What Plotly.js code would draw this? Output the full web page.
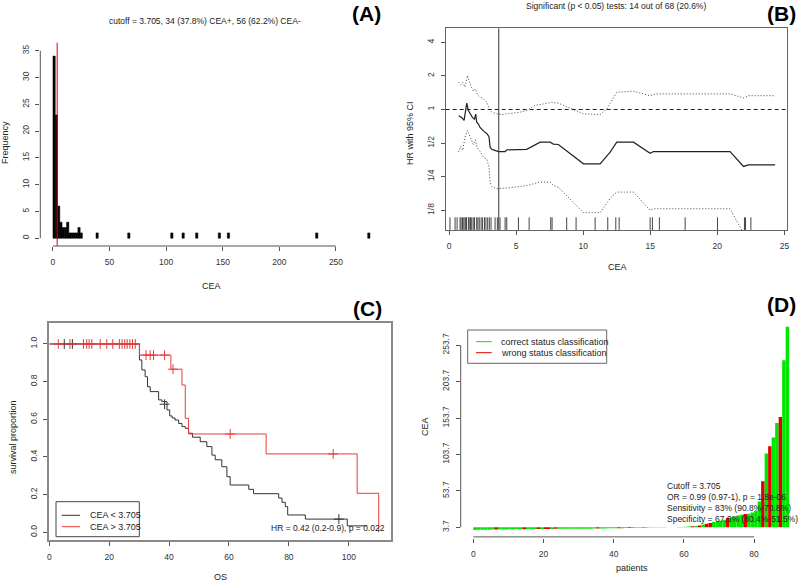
<!DOCTYPE html>
<html>
<head>
<meta charset="utf-8">
<script src="https://cdn.plot.ly/plotly-3.0.1.min.js"></script>
<style>
  html, body { margin: 0; padding: 0; background: #fff; }
  #chart { width: 800px; height: 584px; }
</style>
</head>
<body>
<div id="chart"></div>
<script>
// ---- data ----
var cutoff = 3.705;

// (A) histogram of CEA (bin width 2)
var histBinWidth = 2;
var histLeft  = [0, 2, 4, 6, 8, 10, 12, 14, 16, 18, 20, 22, 24, 38, 66, 104, 114, 126, 146, 154, 232, 278];
var histCount = [34, 23, 6, 3, 2, 2, 3, 1, 1, 1, 1, 2, 1, 1, 1, 1, 1, 1, 1, 1, 1, 1];

// (B) hazard ratio over cutoffs
var hrCea = [0.72, 0.94, 1.12, 1.32, 1.44, 1.57, 1.74, 1.89, 1.99, 2.06, 2.19, 2.31, 2.49, 2.64, 2.81, 2.98, 3.06, 3.18, 3.43, 3.68, 4.18, 4.30, 5.79, 6.79, 7.53, 7.78, 8.15, 10.02, 11.26, 12.01, 12.50, 13.75, 14.99, 15.24, 20.95, 21.95, 22.32, 24.31];
var hrEst = [0.88, 0.85, 0.80, 1.14, 0.98, 0.91, 0.85, 0.82, 0.91, 0.77, 0.74, 0.69, 0.65, 0.63, 0.61, 0.57, 0.46, 0.44, 0.43, 0.42, 0.42, 0.435, 0.44, 0.51, 0.51, 0.49, 0.486, 0.326, 0.326, 0.415, 0.51, 0.51, 0.406, 0.42, 0.42, 0.309, 0.319, 0.319];
var upCea = [0.70, 0.87, 1.02, 1.19, 1.37, 1.51, 1.64, 1.81, 1.96, 2.11, 2.31, 2.56, 2.81, 2.98, 3.18, 3.56, 3.93, 4.30, 5.29, 5.79, 6.41, 7.03, 7.66, 8.15, 8.78, 9.40, 10.02, 11.26, 11.76, 12.50, 13.75, 14.99, 15.49, 20.95, 21.95, 22.32, 24.31];
var upVal = [1.76, 1.67, 1.75, 1.59, 2.02, 1.79, 1.61, 1.46, 1.53, 1.36, 1.29, 1.25, 1.16, 1.03, 0.947, 0.915, 0.90, 0.915, 0.947, 0.98, 1.09, 1.12, 1.16, 1.14, 1.06, 0.99, 0.915, 0.90, 1.01, 1.43, 1.46, 1.33, 1.38, 1.38, 1.27, 1.33, 1.33];
var loCea = [0.70, 0.87, 1.02, 1.19, 1.37, 1.51, 1.64, 1.81, 1.96, 2.11, 2.31, 2.56, 2.81, 2.98, 3.06, 3.18, 3.56, 3.93, 4.30, 5.79, 6.79, 7.53, 7.78, 8.15, 10.02, 11.26, 12.01, 12.50, 13.75, 14.99, 15.24, 20.95, 21.95, 22.32, 24.31];
var loVal = [0.415, 0.466, 0.43, 0.565, 0.648, 0.585, 0.527, 0.486, 0.535, 0.453, 0.423, 0.374, 0.359, 0.304, 0.224, 0.204, 0.195, 0.195, 0.198, 0.208, 0.224, 0.224, 0.208, 0.201, 0.119, 0.119, 0.16, 0.182, 0.182, 0.125, 0.129, 0.129, 0.078, 0.08, 0.08];
var rugCea = [0.07, 0.45, 0.6, 0.82, 0.9, 1.0, 1.1, 1.19, 1.25, 1.3, 1.44, 1.5, 1.6, 1.69, 1.8, 1.9, 2.06, 2.15, 2.25, 2.39, 2.5, 2.64, 2.75, 2.88, 3.0, 3.13, 3.43, 3.6, 3.80, 4.18, 4.30, 5.17, 5.97, 7.58, 7.68, 8.77, 9.47, 10.89, 11.83, 12.43, 12.68, 14.99, 15.16, 15.68, 17.6, 20.01, 22.02, 22.1, 22.5];
var rugLevel = 0.095;

// (C) Kaplan-Meier, OS
var lowT = [0, 30.1, 30.9, 32.0, 32.8, 33.7, 36.5, 37.6, 39.3, 40.2, 41.0, 42.0, 43.2, 44.3, 45.4, 46.5, 47.8, 50.4, 52.6, 54.3, 55.4, 57.6, 59.3, 60.4, 66.6, 68.2, 76.6, 77.7, 78.8, 79.6, 85.5, 99.5, 106.0];
var lowS = [1.0, 0.915, 0.862, 0.826, 0.773, 0.747, 0.703, 0.694, 0.650, 0.618, 0.607, 0.596, 0.578, 0.561, 0.552, 0.526, 0.505, 0.481, 0.455, 0.410, 0.385, 0.348, 0.295, 0.251, 0.228, 0.205, 0.182, 0.159, 0.136, 0.092, 0.070, 0.034, 0.034];
var lowCensT = [5.0, 7.7, 38.5, 96.7];
var lowCensS = [1, 1, 0.68, 0.07];
var highT = [0, 30.1, 40.6, 44.3, 45.4, 46.5, 72.4, 102.8, 110.0];
var highS = [1, 0.941, 0.866, 0.782, 0.605, 0.522, 0.416, 0.207, 0];
var highCensT = [3.0, 6.9, 11.4, 12.5, 13.3, 14.2, 17.0, 19.2, 21.2, 23.4, 24.3, 25.2, 26.0, 26.9, 27.8, 28.7, 32.3, 33.7, 34.8, 38.5, 41.3, 60.4, 94.8];
var highCensS = [1, 1, 1, 1, 1, 1, 1, 1, 1, 1, 1, 1, 1, 1, 1, 1, 0.941, 0.941, 0.941, 0.941, 0.866, 0.522, 0.416];

// (D) sorted CEA per patient, misclassified ones
var ceaSorted = [0.2, 0.3, 0.4, 0.5, 0.5, 0.6, 0.7, 0.8, 0.8, 0.9,
  1.0, 1.0, 1.1, 1.1, 1.2, 1.2, 1.3, 1.3, 1.4, 1.4,
  1.4, 1.5, 1.5, 1.6, 1.6, 1.6, 1.7, 1.7, 1.8, 1.8,
  1.8, 1.9, 1.9, 1.9, 2.0, 2.1, 2.1, 2.2, 2.3, 2.4,
  2.5, 2.5, 2.6, 2.7, 2.8, 2.9, 3.0, 3.1, 3.2, 3.3,
  3.4, 3.4, 3.5, 3.6, 3.6, 3.7, 3.8, 3.9, 4.2, 4.3,
  4.5, 4.9, 5.2, 5.5, 6.1, 7.6, 8.8, 9.5, 10.9, 11.8,
  12.7, 14.2, 16.5, 17.6, 19.0, 20.0, 21.0, 22.0, 22.5, 24.0,
  26.0, 39, 67, 105, 115, 127, 147, 155, 233, 279];
var wrongIdx = [6, 14, 18, 20, 21, 23, 35, 41, 44, 48, 62, 64, 66, 67, 72, 77, 82, 84, 87];

// ---- helpers: page pixels -> paper coords ----
var W = 800, H = 584;
function px(x) { return x / W; }
function py(y) { return 1 - y / H; }

var font = 'Liberation Sans, Arial, Helvetica, sans-serif';
var txt = '#222';
var red = '#e63c3c';
var dotted = '1px,2px';

function ax(extra) {
  return Object.assign({
    showgrid: false, zeroline: false, showline: false,
    ticks: 'outside', ticklen: 4, tickwidth: 1, tickcolor: '#555',
    tickfont: {size: 8.5, color: '#333'}, fixedrange: true
  }, extra);
}

// ---- traces ----
var histX = histLeft.map(function (l) { return l + histBinWidth / 2; });

var barIdx = ceaSorted.map(function (v, i) { return i + 0.5; });
var barColor = ceaSorted.map(function (v, i) {
  return wrongIdx.indexOf(i) >= 0 ? '#e00000' : '#00e600';
});

var data = [
  {type: 'bar', x: histX, y: histCount, width: histBinWidth, xaxis: 'x', yaxis: 'y',
   marker: {color: '#000', line: {color: '#000', width: 0.5}}},

  {type: 'scatter', mode: 'lines', x: upCea, y: upVal, xaxis: 'x2', yaxis: 'y2',
   line: {color: '#444', width: 1, dash: dotted}},
  {type: 'scatter', mode: 'lines', x: loCea, y: loVal, xaxis: 'x2', yaxis: 'y2',
   line: {color: '#444', width: 1, dash: dotted}},
  {type: 'scatter', mode: 'lines', x: hrCea, y: hrEst, xaxis: 'x2', yaxis: 'y2',
   line: {color: '#222', width: 1.2}},
  {type: 'scatter', mode: 'markers', x: rugCea, y: rugCea.map(function () { return rugLevel; }),
   xaxis: 'x2', yaxis: 'y2',
   marker: {symbol: 'line-ns-open', size: 9, color: '#444', line: {color: '#444', width: 1}}},

  {type: 'scatter', mode: 'lines', x: lowT, y: lowS, xaxis: 'x3', yaxis: 'y3',
   line: {color: '#333', width: 1, shape: 'hv'}},
  {type: 'scatter', mode: 'markers', x: lowCensT, y: lowCensS, xaxis: 'x3', yaxis: 'y3',
   marker: {symbol: 'cross-thin-open', size: 7, color: '#333', line: {color: '#333', width: 1}}},
  {type: 'scatter', mode: 'lines', x: highT, y: highS, xaxis: 'x3', yaxis: 'y3',
   line: {color: red, width: 1, shape: 'hv'}},
  {type: 'scatter', mode: 'markers', x: highCensT, y: highCensS, xaxis: 'x3', yaxis: 'y3',
   marker: {symbol: 'cross-thin-open', size: 7, color: red, line: {color: red, width: 1}}},

  {type: 'bar', x: barIdx, y: ceaSorted.map(function (v) { return v - cutoff; }), base: cutoff,
   width: 1, xaxis: 'x4', yaxis: 'y4', marker: {color: barColor, line: {width: 0}}}
];

// ---- annotations ----
function note(text, x, y, opt) {
  return Object.assign({
    text: text, x: px(x), y: py(y), xref: 'paper', yref: 'paper', showarrow: false,
    xanchor: 'center', yanchor: 'middle', font: {family: font, size: 9, color: txt}
  }, opt || {});
}
function letter(text, x, y) {
  return note('<b>' + text + '</b>', x, y, {font: {family: font, size: 21, color: '#000'}});
}
var small = {family: font, size: 8.5, color: txt};

var annotations = [
  note('cutoff = 3.705, 34 (37.8%) CEA+, 56 (62.2%) CEA-', 205, 21, {font: small}),
  letter('(A)', 366, 14),
  note('Frequency', 5, 143, {textangle: -90}),
  note('CEA', 211, 286),

  note('Significant (p < 0.05) tests: 14 out of 68 (20.6%)', 616, 6, {font: small}),
  letter('(B)', 781, 14),
  note('HR with 95% CI', 410, 133, {textangle: -90}),
  note('CEA', 617, 267),

  letter('(C)', 367, 309),
  note('survival proportion', 13, 437, {textangle: -90}),
  note('OS', 220, 577),
  note('CEA < 3.705', 87.5, 515.3, {xanchor: 'left'}),
  note('CEA > 3.705', 87.5, 526.7, {xanchor: 'left'}),
  note('HR = 0.42 (0.2-0.9), p = 0.022', 387, 528.3, {xanchor: 'right', font: small}),

  letter('(D)', 781, 304),
  note('CEA', 425, 427, {textangle: -90}),
  note('patients', 632, 568),
  note('correct status classification', 499, 341.7, {xanchor: 'left'}),
  note('wrong status classification', 499, 352.7, {xanchor: 'left'}),
  note('Cutoff = 3.705', 665, 485.7, {xanchor: 'left', font: small}),
  note('OR = 0.99 (0.97-1), p = 1.8e-06', 665, 496.9, {xanchor: 'left', font: small}),
  note('Sensitivity = 83% (90.8%-70.8%)', 665, 508.4, {xanchor: 'left', font: small}),
  note('Specificity = 67.6% (80.4%-51.5%)', 665, 519.4, {xanchor: 'left', font: small})
];

// ---- shapes: R-style axis lines, reference lines, legend boxes ----
var axLine = {color: '#555', width: 1};
var shapes = [
  {type: 'line', xref: 'x', yref: 'y domain', x0: 0, x1: 250, y0: 0, y1: 0, line: axLine},
  {type: 'line', xref: 'x domain', yref: 'y', x0: 0, x1: 0, y0: 0, y1: 35, line: axLine},
  {type: 'line', xref: 'x', yref: 'y domain', x0: cutoff, x1: cutoff, y0: 0, y1: 1,
   line: {color: '#e00000', width: 1}},

  {type: 'line', xref: 'x2 domain', yref: 'y2', x0: 0, x1: 1, y0: 1, y1: 1,
   line: {color: '#222', width: 1, dash: '4px,3px'}},
  {type: 'line', xref: 'x2', yref: 'y2 domain', x0: cutoff, x1: cutoff, y0: 0, y1: 1,
   line: {color: '#333', width: 1}},

  {type: 'rect', xref: 'paper', yref: 'paper', x0: px(56), x1: px(139.3), y0: py(536.7), y1: py(501.7),
   line: {color: '#444', width: 1}, fillcolor: 'rgba(255,255,255,0)'},
  {type: 'line', xref: 'paper', yref: 'paper', x0: px(61.7), x1: px(80), y0: py(515.3), y1: py(515.3),
   line: {color: '#333', width: 1}},
  {type: 'line', xref: 'paper', yref: 'paper', x0: px(61.7), x1: px(80), y0: py(526.7), y1: py(526.7),
   line: {color: red, width: 1}},

  {type: 'line', xref: 'x4', yref: 'y4 domain', x0: 0, x1: 80, y0: 0.006, y1: 0.006, line: axLine},
  {type: 'line', xref: 'x4 domain', yref: 'y4', x0: 0, x1: 0, y0: cutoff, y1: cutoff + 250, line: axLine},
  {type: 'rect', xref: 'paper', yref: 'paper', x0: px(467.7), x1: px(606.7), y0: py(363.3), y1: py(330),
   line: {color: '#666', width: 1}, fillcolor: '#fff', layer: 'below'},
  {type: 'line', xref: 'paper', yref: 'paper', x0: px(476), x1: px(491.7), y0: py(341.7), y1: py(341.7),
   line: {color: '#00e600', width: 1}},
  {type: 'line', xref: 'paper', yref: 'paper', x0: px(476), x1: px(491.7), y0: py(352.7), y1: py(352.7),
   line: {color: '#e00000', width: 1}}
];

var dTicks = [0, 50, 100, 150, 200, 250].map(function (k) { return cutoff + k; });

var layout = {
  width: W, height: H,
  margin: {l: 0, r: 0, t: 0, b: 0},
  paper_bgcolor: '#fff', plot_bgcolor: 'rgba(0,0,0,0)',
  font: {family: font, color: txt},
  showlegend: false,
  hovermode: false,

  xaxis: ax({domain: [px(40.3), px(381.5)], range: [-11.2, 290.2], anchor: 'y',
             tickvals: [0, 50, 100, 150, 200, 250], ticklabelstandoff: 4}),
  yaxis: ax({domain: [py(246), py(42.7)], range: [-1.45, 36.5], anchor: 'x',
             tickvals: [0, 5, 10, 15, 20, 25, 30, 35], tickangle: -90, ticklabelstandoff: 3}),

  xaxis2: ax({domain: [px(445.7), px(786.7)], range: [-0.25, 25.17], anchor: 'y2',
              tickvals: [0, 5, 10, 15, 20, 25], showline: true, mirror: true,
              linecolor: '#666', linewidth: 1, ticklabelstandoff: 4}),
  yaxis2: ax({domain: [py(230), py(28.3)], type: 'log', range: [-1.0795, 0.7276], anchor: 'x2',
              tickvals: [0.125, 0.25, 0.5, 1, 2, 4], ticktext: ['1/8', '1/4', '1/2', '1', '2', '4'],
              tickangle: -90, showline: true, mirror: true, linecolor: '#666', linewidth: 1,
              ticklabelstandoff: 3}),

  xaxis3: ax({domain: [px(49.3), px(390.7)], range: [0, 114], anchor: 'y3',
              tickvals: [0, 20, 40, 60, 80, 100], showline: true, mirror: true,
              linecolor: '#8a8a8a', linewidth: 2, ticklabelstandoff: 4}),
  yaxis3: ax({domain: [py(540), py(322.7)], range: [-0.041, 1.113], anchor: 'x3',
              tickvals: [0, 0.2, 0.4, 0.6, 0.8, 1.0], tickformat: '.1f', tickangle: -90,
              showline: true, mirror: true, linecolor: '#8a8a8a', linewidth: 2, ticklabelstandoff: 3}),

  xaxis4: ax({domain: [px(460.7), 1], range: [-3.6, 93.08], anchor: 'y4',
              tickvals: [0, 20, 40, 60, 80], ticklabelstandoff: 4}),
  yaxis4: ax({domain: [py(538.2), py(318.6)], range: [-11.2, 290.2], anchor: 'x4',
              tickvals: dTicks, ticktext: dTicks.map(function (v) { return v.toFixed(1); }),
              tickangle: -90, ticklabelstandoff: 3}),

  shapes: shapes,
  annotations: annotations
};

Plotly.newPlot('chart', data, layout, {staticPlot: true, displayModeBar: false});
</script>
</body>
</html>
